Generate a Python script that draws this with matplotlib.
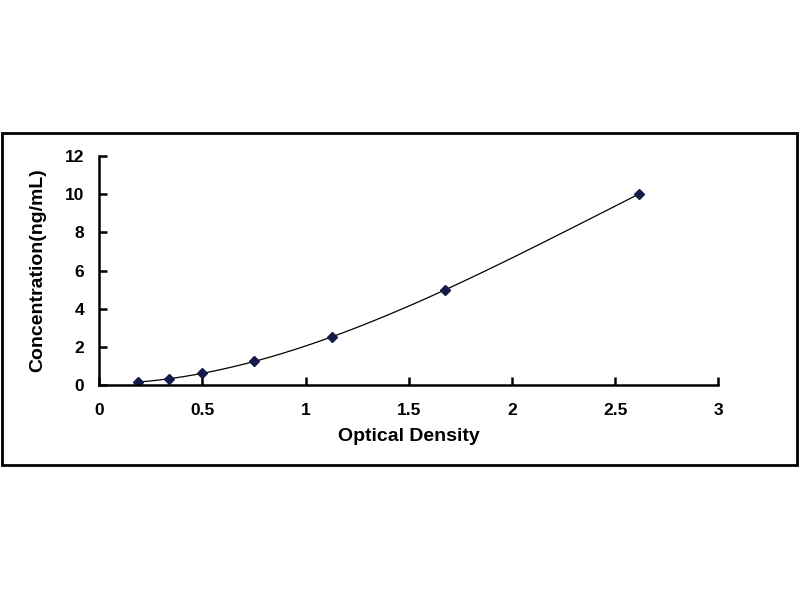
import numpy as np
import matplotlib
matplotlib.use("Agg")
import matplotlib.pyplot as plt
from matplotlib.patches import Rectangle

# Standard curve points
od = [0.186, 0.338, 0.499, 0.752, 1.126, 1.677, 2.614]
conc = [0.156, 0.312, 0.625, 1.25, 2.5, 5.0, 10.0]

x_ticks = [0, 0.5, 1, 1.5, 2, 2.5, 3]
x_tick_labels = ["0", "0.5", "1", "1.5", "2", "2.5", "3"]
y_ticks = [0, 2, 4, 6, 8, 10, 12]

plt.rcParams["font.family"] = ["Liberation Sans", "DejaVu Sans"]
plt.rcParams["font.weight"] = "bold"

fig = plt.figure(figsize=(8, 6), dpi=100)
fig.patch.set_facecolor("white")

# outer frame around the plot area
fig.patches.append(Rectangle((0.003, 0.225), 0.993, 0.553, transform=fig.transFigure,
                             fill=False, edgecolor="black", linewidth=2))

ax = fig.add_axes([0.124, 0.3583, 0.774, 0.3817])

# fitted trend line (3rd order polynomial through the standards)
coef = np.polyfit(od, conc, 3)
xs = np.linspace(min(od), max(od), 200)
ax.plot(xs, np.polyval(coef, xs), color="black", linewidth=0.9)
ax.plot(od, conc, linestyle="none", marker="D", markersize=5,
        color="#141a4a", markeredgecolor="#141a4a")

ax.set_xlim(0, 3)
ax.set_ylim(0, 12)
ax.set_xticks(x_ticks)
ax.set_xticklabels(x_tick_labels)
ax.set_yticks(y_ticks)

for side in ["top", "right"]:
    ax.spines[side].set_visible(False)
for side in ["left", "bottom"]:
    ax.spines[side].set_linewidth(1.8)

ax.tick_params(axis="both", direction="in", length=6, width=1.8, labelsize=12.5)
ax.tick_params(axis="x", pad=13)
ax.tick_params(axis="y", pad=11)
for lbl in ax.get_xticklabels() + ax.get_yticklabels():
    lbl.set_fontweight("bold")

ax.set_xlabel("Optical Density", fontsize=14, fontweight="bold", labelpad=7)
ax.set_ylabel("Concentration(ng/mL)", fontsize=14, fontweight="bold", labelpad=13)

fig.savefig("out.png", dpi=100)
